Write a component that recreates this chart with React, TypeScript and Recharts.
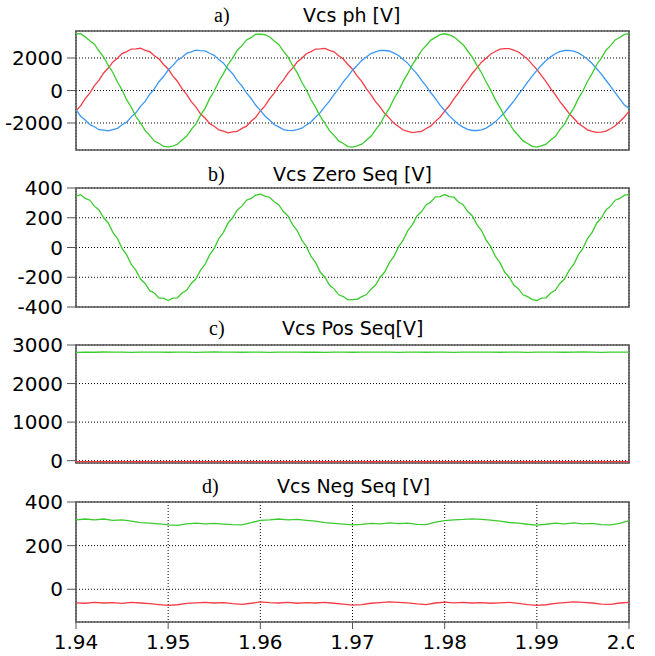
import { LineChart, Line, XAxis, YAxis, CartesianGrid, ReferenceArea } from "recharts";

const FONT = "'DejaVu Sans', sans-serif";
const SERIF = "'Liberation Serif', 'DejaVu Serif', serif";

const GREEN = "#3ccb2e";
const RED = "#f53c46";
const BLUE = "#3d97f5";

// time axis: 1.94 .. 2.00
const xTicks = [1.94, 1.95, 1.96, 1.97, 1.98, 1.99, 2.0];

// a) phase voltages, sampled every 0.5 ms
const phGreen = [
  3480, 3500, 3300, 3060, 2850, 2430, 2060, 1540, 1110, 520,
  40, -580, -1030, -1600, -1990, -2470, -2760, -3110, -3250, -3440,
  -3470, -3420, -3310, -3050, -2820, -2410, -2070, -1530, -1100, -500,
  -30, 570, 1040, 1600, 1990, 2480, 2760, 3110, 3250, 3460,
  3470, 3430, 3310, 3050, 2830, 2420, 2070, 1540, 1100, 510,
  30, -570, -1040, -1590, -2000, -2470, -2760, -3100, -3260, -3450,
  -3480, -3400, -3300, -3060, -2820, -2420, -2060, -1540, -1090, -510,
  -20, 560, 1050, 1590, 2000, 2470, 2770, 3100, 3270, 3440,
  3490, 3420, 3300, 3060, 2820, 2430, 2050, 1550, 1090, 520,
  20, -560, -1050, -1590, -2000, -2460, -2770, -3100, -3260, -3440,
  -3480, -3410, -3300, -3050, -2830, -2410, -2070, -1530, -1100, -500,
  -30, 570, 1040, 1600, 1990, 2480, 2760, 3110, 3260, 3450, 3500,
];
const phRed = [
  -1250, -950, -500, -160, 300, 640, 1080, 1380, 1760, 1980,
  2270, 2390, 2550, 2560, 2600, 2470, 2390, 2140, 1950, 1600,
  1320, 900, 570, 110, -240, -690, -1010, -1430, -1690, -2030,
  -2200, -2430, -2500, -2600, -2540, -2520, -2330, -2190, -1890, -1650,
  -1260, -950, -510, -160, 300, 640, 1070, 1380, 1750, 1980,
  2260, 2390, 2550, 2560, 2590, 2470, 2380, 2140, 1940, 1600,
  1310, 900, 560, 110, -250, -690, -1020, -1420, -1700, -2020,
  -2210, -2430, -2510, -2590, -2550, -2510, -2340, -2180, -1900, -1640,
  -1270, -940, -520, -150, 290, 650, 1060, 1390, 1740, 1990,
  2250, 2400, 2540, 2570, 2580, 2480, 2370, 2150, 1930, 1610,
  1300, 910, 550, 120, -260, -680, -1030, -1410, -1710, -2010,
  -2220, -2420, -2520, -2580, -2560, -2500, -2350, -2170, -1910, -1630, -1280,
];
const phBlue = [
  -1180, -1580, -1810, -2100, -2230, -2410, -2440, -2480, -2400, -2330,
  -2110, -1950, -1620, -1370, -980, -670, -230, 100, 540, 860,
  1260, 1530, 1860, 2050, 2280, 2370, 2480, 2450, 2440, 2290,
  2160, 1900, 1680, 1320, 1030, 610, 280, -150, -490, -910,
  -1220, -1570, -1820, -2090, -2240, -2400, -2450, -2470, -2410, -2320,
  -2120, -1940, -1630, -1360, -990, -660, -240, 110, 530, 870,
  1250, 1540, 1850, 2060, 2270, 2380, 2470, 2460, 2430, 2300,
  2150, 1910, 1670, 1330, 1020, 620, 270, -140, -500, -900,
  -1230, -1560, -1830, -2080, -2250, -2390, -2460, -2460, -2420, -2310,
  -2130, -1930, -1640, -1350, -1000, -650, -250, 120, 520, 880,
  1240, 1550, 1840, 2070, 2260, 2390, 2460, 2470, 2420, 2310,
  2140, 1920, 1660, 1340, 1010, 630, 260, -130, -510, -890, -1100,
];

// b) zero sequence, every 0.5 ms
const zeroSeq = [
  345, 355, 330, 318, 278, 252, 200, 165, 102, 60,
  -6, -50, -114, -154, -212, -242, -290, -306, -340, -340,
  -356, -340, -338, -306, -288, -242, -212, -154, -114, -50,
  -6, 60, 102, 165, 200, 252, 278, 318, 330, 352,
  358, 345, 338, 308, 288, 242, 212, 154, 114, 50,
  6, -60, -102, -165, -200, -252, -278, -318, -330, -352,
  -350, -348, -330, -318, -280, -252, -200, -165, -102, -60,
  6, 50, 114, 154, 212, 242, 288, 306, 340, 342,
  356, 342, 338, 306, 288, 242, 212, 154, 114, 50,
  6, -60, -102, -165, -200, -252, -278, -318, -330, -350,
  -356, -340, -338, -306, -288, -242, -212, -154, -114, -50,
  -6, 60, 102, 165, 200, 252, 278, 318, 330, 352, 356,
];

// c) positive sequence, every 1 ms
const posGreen = [
  2810, 2815, 2812, 2818, 2814, 2816, 2811, 2815, 2813, 2817,
  2812, 2814, 2816, 2811, 2815, 2818, 2813, 2815, 2812, 2816,
  2814, 2810, 2815, 2813, 2817, 2812, 2815, 2811, 2816, 2814,
  2812, 2815, 2817, 2813, 2815, 2811, 2816, 2814, 2812, 2817,
  2815, 2811, 2814, 2816, 2813, 2815, 2812, 2817, 2814, 2811,
  2815, 2813, 2816, 2812, 2815, 2818, 2814, 2811, 2815, 2813, 2816,
];
const posRed = [
  -24, -26, -22, -25, -27, -23, -25, -28, -24, -22,
  -26, -25, -23, -27, -24, -22, -25, -28, -26, -23,
  -25, -27, -24, -22, -26, -25, -23, -27, -24, -26,
  -22, -25, -28, -24, -23, -26, -25, -22, -27, -24,
  -26, -23, -25, -28, -24, -22, -26, -25, -23, -27,
  -24, -22, -25, -28, -26, -23, -25, -27, -24, -22, -25,
];

// d) negative sequence, every 1 ms
const negGreen = [
  318, 322, 318, 322, 316, 318, 312, 305, 303, 300,
  295, 293, 300, 303, 300, 302, 299, 296, 295, 305,
  316, 318, 322, 318, 320, 316, 312, 305, 302, 299,
  295, 297, 302, 300, 304, 301, 303, 297, 296, 308,
  315, 318, 320, 323, 320, 317, 312, 306, 303, 298,
  294, 298, 303, 300, 304, 300, 302, 296, 295, 302, 315,
];
const negRed = [
  -62, -64, -60, -63, -61, -65, -60, -63, -66, -70,
  -74, -71, -65, -62, -60, -63, -61, -66, -69, -64,
  -58, -61, -63, -60, -64, -61, -63, -60, -64, -68,
  -73, -70, -64, -61, -58, -60, -62, -67, -70, -63,
  -59, -62, -60, -63, -61, -64, -62, -60, -65, -70,
  -74, -71, -65, -61, -58, -60, -63, -68, -69, -63, -60,
];

function toRows(step: number, series: Record<string, number[]>) {
  const keys = Object.keys(series);
  const n = Math.min(...keys.map((k) => series[k].length));
  const rows: Record<string, number>[] = [];
  for (let i = 0; i < n; i++) {
    const r: Record<string, number> = { t: +(1.94 + i * step).toFixed(4) };
    keys.forEach((k) => (r[k] = series[k][i]));
    rows.push(r);
  }
  return rows;
}

const dataA = toRows(0.0005, { g: phGreen, r: phRed, b: phBlue });
const dataB = toRows(0.0005, { g: zeroSeq });
const dataC = toRows(0.001, { g: posGreen, r: posRed });
const dataD = toRows(0.001, { g: negGreen, r: negRed });

const PAD = 20;

type PanelProps = {
  top: number;
  plotH: number;
  data: Record<string, number>[];
  lines: { key: string; color: string }[];
  domain: [number, number];
  ticks: number[];
  showX?: boolean;
};

function Panel({ top, plotH, data, lines, domain, ticks, showX }: PanelProps) {
  const xH = showX ? 32 : 0;
  return (
    <div style={{ position: "absolute", left: 0, top: top - PAD }}>
      <LineChart
        width={634}
        height={plotH + PAD + (showX ? xH : PAD)}
        data={data}
        margin={{ top: PAD, right: 5, bottom: showX ? 0 : PAD, left: 0 }}
      >
        <CartesianGrid stroke="#000" strokeDasharray="1 2" />
        <XAxis
          dataKey="t"
          type="number"
          domain={[1.94, 2.0]}
          ticks={xTicks}
          interval={0}
          allowDataOverflow
          height={xH}
          axisLine={false}
          tick={showX ? { fill: "#000", fontSize: 20, fontFamily: FONT } : false}
          tickLine={showX ? { stroke: "#555" } : false}
          tickSize={7}
          tickMargin={6}
          tickFormatter={(v: number) => v.toFixed(2)}
        />
        <YAxis
          type="number"
          domain={domain}
          ticks={ticks}
          interval={0}
          allowDataOverflow
          width={76}
          axisLine={false}
          tickLine={{ stroke: "#555" }}
          tickSize={9}
          tickMargin={4}
          tick={{ fill: "#000", fontSize: 20, fontFamily: FONT }}
        />
        {lines.map((l) => (
          <Line
            key={l.key}
            dataKey={l.key}
            type="linear"
            stroke={l.color}
            strokeWidth={1.3}
            dot={false}
            isAnimationActive={false}
          />
        ))}
        <ReferenceArea
          x1={1.94}
          x2={2.0}
          y1={domain[0]}
          y2={domain[1]}
          fill="none"
          stroke="#555"
          strokeWidth={1.6}
        />
      </LineChart>
    </div>
  );
}

function Title({ top, tagLeft, textLeft, tag, text }: { top: number; tagLeft: number; textLeft: number; tag: string; text: string }) {
  return (
    <>
      <div style={{ position: "absolute", top, left: tagLeft, fontFamily: SERIF, fontSize: 20, lineHeight: "22px" }}>
        {tag}
      </div>
      <div
        style={{
          position: "absolute",
          top,
          left: textLeft,
          fontFamily: FONT,
          fontSize: 19,
          lineHeight: "22px",
          whiteSpace: "nowrap",
        }}
      >
        {text}
      </div>
    </>
  );
}

export default function App() {
  return (
    <div
      style={{
        position: "absolute",
        left: 0,
        top: 0,
        width: 655,
        height: 656,
        overflow: "hidden",
        background: "#fff",
      }}
    >
      <Panel
        top={31}
        plotH={119}
        data={dataA}
        lines={[
          { key: "r", color: RED },
          { key: "b", color: BLUE },
          { key: "g", color: GREEN },
        ]}
        domain={[-3660, 3660]}
        ticks={[-2000, 0, 2000]}
      />
      <Panel
        top={188}
        plotH={119}
        data={dataB}
        lines={[{ key: "g", color: GREEN }]}
        domain={[-400, 400]}
        ticks={[-400, -200, 0, 200, 400]}
      />
      <Panel
        top={345}
        plotH={118}
        data={dataC}
        lines={[
          { key: "g", color: GREEN },
          { key: "r", color: RED },
        ]}
        domain={[-60, 3000]}
        ticks={[0, 1000, 2000, 3000]}
      />
      <Panel
        top={502}
        plotH={120}
        data={dataD}
        lines={[
          { key: "g", color: GREEN },
          { key: "r", color: RED },
        ]}
        domain={[-150, 400]}
        ticks={[0, 200, 400]}
        showX
      />
      <Title top={4} tagLeft={214} textLeft={303} tag="a)" text="Vcs ph [V]" />
      <Title top={163} tagLeft={208} textLeft={273} tag="b)" text="Vcs Zero Seq [V]" />
      <Title top={317} tagLeft={209} textLeft={282} tag="c)" text="Vcs Pos Seq[V]" />
      <Title top={475} tagLeft={202} textLeft={277} tag="d)" text="Vcs Neg Seq [V]" />
    </div>
  );
}
